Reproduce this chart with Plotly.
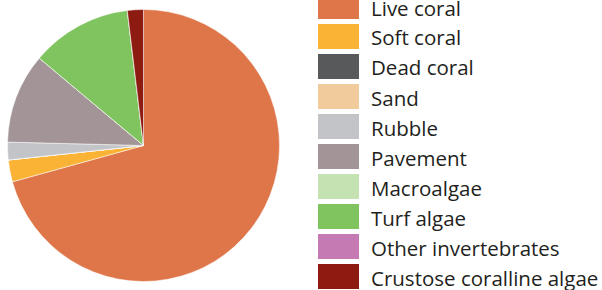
import plotly.graph_objects as go

categories = ["Live coral", "Soft coral", "Dead coral", "Sand", "Rubble", "Pavement",
              "Macroalgae", "Turf algae", "Other invertebrates", "Crustose coralline algae"]
values = [70.7, 2.6, 0, 0, 2.1, 10.7, 0, 12.0, 0, 1.9]
colors = ["#DE7649", "#FBB335", "#58595B", "#F2CB9C", "#C3C4C8", "#A39597",
          "#C5E2B3", "#80C45F", "#C57AB3", "#8E1B11"]

W, H = 602, 290

fig = go.Figure()
fig.add_trace(go.Pie(
    labels=categories, values=values, sort=False, direction="clockwise", rotation=0,
    marker=dict(colors=colors, line=dict(color="white", width=0.5)),
    textinfo="none", showlegend=False,
    domain=dict(x=[7.5 / W, 279.5 / W], y=[8.5 / H, 280.5 / H]),
))

# custom legend built from the category/color lists
shapes = []
annotations = []
for i, (cat, col) in enumerate(zip(categories, colors)):
    top = -6 + 30 * i
    shapes.append(dict(type="rect", xref="paper", yref="paper",
                       x0=318 / W, x1=359 / W, y0=1 - (top + 25) / H, y1=1 - top / H,
                       fillcolor=col, line=dict(width=0)))
    annotations.append(dict(text=cat, xref="paper", yref="paper",
                            x=369 / W, y=1 - (top + 13.5) / H, xanchor="left", yanchor="middle",
                            showarrow=False, font=dict(size=20.5, color="#231F20", family="Open Sans")))

fig.update_layout(width=W, height=H, margin=dict(l=0, r=0, t=0, b=0),
                  paper_bgcolor="white", plot_bgcolor="white",
                  shapes=shapes, annotations=annotations)
fig.write_html("out.html", config={"displayModeBar": False},
               post_script="document.body.style.margin='0';document.body.style.overflow='hidden';")
